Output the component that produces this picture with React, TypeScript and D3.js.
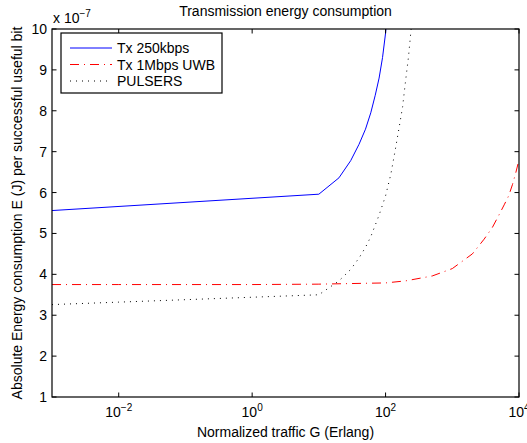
import React from "react";
import * as d3 from "d3";

// ---- data ----
const txX = [0.001, 10, 20, 30, 40, 50, 60, 70, 80, 90, 100, 110];
const txY = [5.56, 5.96, 6.36, 6.78, 7.18, 7.55, 7.95, 8.38, 8.8, 9.3, 9.9, 10.6];

const uwbX = [0.001, 0.01, 0.1, 1, 10, 100, 200, 500, 1000, 2000, 3000, 4000, 5000, 6000, 7000, 8000, 9000, 10000];
const uwbY = [3.75, 3.75, 3.75, 3.75, 3.76, 3.79, 3.84, 3.96, 4.14, 4.5, 4.86, 5.15, 5.45, 5.7, 5.92, 6.2, 6.5, 6.8];

const pulX = [0.001, 0.01, 0.1, 1, 10, 20, 30, 40, 50, 60, 80, 100, 120, 140, 160, 180, 200, 220, 240, 260];
const pulY = [3.26, 3.32, 3.38, 3.44, 3.5, 3.84, 4.12, 4.4, 4.66, 4.92, 5.45, 5.92, 6.45, 7.05, 7.6, 8.1, 8.75, 9.3, 9.95, 10.5];

const xTickValues = [1e-2, 1, 1e2, 1e4];
const xTickExps = ["\u22122", "0", "2", "4"];
const yTickValues = [1, 2, 3, 4, 5, 6, 7, 8, 9, 10];

const seriesNames = ["Tx 250kbps", "Tx 1Mbps UWB", "PULSERS"];
const titleText = "Transmission energy consumption";
const xLabelText = "Normalized traffic G (Erlang)";
const yLabelText = "Absolute Energy consumption E (J) per successful useful bit";

const W = 527;
const H = 443;
const L = 52, R = 519, T = 29, B = 397;
const FONT = "'Liberation Sans', Arial, Helvetica, sans-serif";
const FS = 14;

export default function App() {
  const x = d3.scaleLog().domain([1e-3, 1e4]).range([L, R]);
  const y = d3.scaleLinear().domain([1, 10]).range([B, T]);
  const line = d3
    .line<[number, number]>()
    .x((d) => x(d[0]))
    .y((d) => y(d[1]));

  const mk = (xs: number[], ys: number[]) => xs.map((v, i) => [v, ys[i]] as [number, number]);

  const series = [
    { name: seriesNames[0], data: mk(txX, txY), color: "#0000ff", dash: undefined as string | undefined },
    { name: seriesNames[1], data: mk(uwbX, uwbY), color: "#ff0000", dash: "9,5,1,5" },
    { name: seriesNames[2], data: mk(pulX, pulY), color: "#000000", dash: "1,5" },
  ];

  const tl = 4.5;

  return (
    <svg
      width={W}
      height={H}
      style={{ position: "absolute", left: 0, top: 0, background: "#fff" }}
      fontFamily={FONT}
    >
      <rect x={0} y={0} width={W} height={H} fill="#fff" />
      <defs>
        <clipPath id="plotclip">
          <rect x={L} y={T} width={R - L} height={B - T} />
        </clipPath>
      </defs>

      {/* series */}
      <g clipPath="url(#plotclip)">
        {series.map((s) => (
          <path
            key={s.name}
            d={line(s.data) || ""}
            fill="none"
            stroke={s.color}
            strokeWidth={1}
            strokeDasharray={s.dash}
          />
        ))}
      </g>

      {/* box */}
      <rect x={L} y={T} width={R - L} height={B - T} fill="none" stroke="#000" strokeWidth={1.2} />

      {/* x ticks */}
      {xTickValues.map((v, i) => (
        <g key={"xt" + i}>
          <line x1={x(v)} x2={x(v)} y1={B} y2={B - tl} stroke="#000" strokeWidth={1} />
          <line x1={x(v)} x2={x(v)} y1={T} y2={T + tl} stroke="#000" strokeWidth={1} />
          <text x={x(v)} y={417} fontSize={FS} textAnchor="middle" fill="#000">
            10
            <tspan fontSize={10} dy={-6}>
              {xTickExps[i]}
            </tspan>
          </text>
        </g>
      ))}

      {/* y ticks */}
      {yTickValues.map((v) => (
        <g key={"yt" + v}>
          <line x1={L} x2={L + tl} y1={y(v)} y2={y(v)} stroke="#000" strokeWidth={1} />
          <line x1={R} x2={R - tl} y1={y(v)} y2={y(v)} stroke="#000" strokeWidth={1} />
          <text x={47} y={y(v) + 5} fontSize={FS} textAnchor="end" fill="#000">
            {v}
          </text>
        </g>
      ))}

      {/* multiplier */}
      <text x={53} y={23} fontSize={FS} fill="#000">
        x 10
        <tspan fontSize={10} dy={-6}>
          {"\u22127"}
        </tspan>
      </text>

      {/* title */}
      <text x={(L + R) / 2} y={16} fontSize={FS} textAnchor="middle" fill="#000">
        {titleText}
      </text>

      {/* x label */}
      <text x={(L + R) / 2} y={437} fontSize={FS} textAnchor="middle" fill="#000">
        {xLabelText}
      </text>

      {/* y label */}
      <text
        transform={`translate(22, ${(T + B) / 2}) rotate(-90)`}
        fontSize={FS}
        textAnchor="middle"
        fill="#000"
      >
        {yLabelText}
      </text>

      {/* legend */}
      <g>
        <rect x={61} y={33} width={161} height={60} fill="#fff" stroke="#000" strokeWidth={1.2} />
        {series.map((s, i) => {
          const cy = 48 + i * 16.5;
          return (
            <g key={"lg" + i}>
              <line x1={70} x2={112} y1={cy} y2={cy} stroke={s.color} strokeWidth={1} strokeDasharray={s.dash} />
              <text x={117} y={cy + 5} fontSize={FS} fill="#000">
                {s.name}
              </text>
            </g>
          );
        })}
      </g>
    </svg>
  );
}
